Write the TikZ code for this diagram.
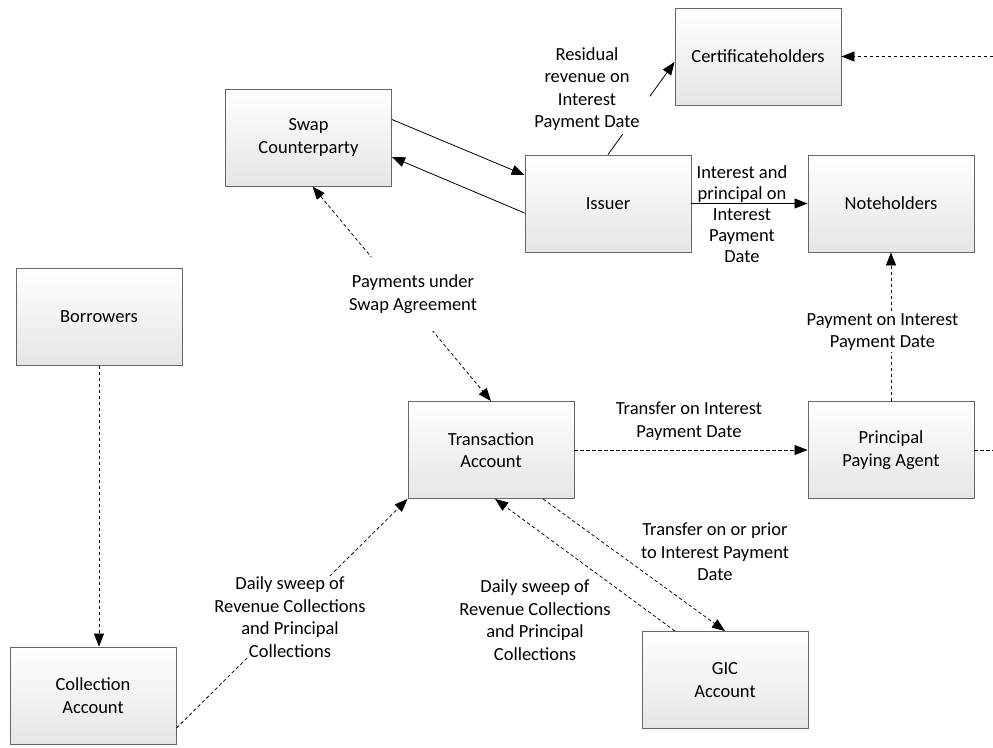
\documentclass[tikz,border=0pt]{standalone}
\usepackage{fontspec}
\setmainfont{Carlito}
\usetikzlibrary{arrows.meta,calc}
\newcommand\fsz{\fontsize{18.5}{22.5}\selectfont}
\newcommand\fszb{\fontsize{18.5}{21}\selectfont}
\begin{document}
\begin{tikzpicture}[x=1pt,y=-1pt,
  box/.style={draw=black!60, line width=0.9pt, top color=white, bottom color=black!10,
              minimum width=166pt, minimum height=97pt, align=center, font=\fsz},
  lbl/.style={align=center, font=\fsz, inner sep=1pt},
  conn/.style={line width=0.8pt, -{Triangle[length=13pt,width=10pt]}},
  dconn/.style={conn, line width=0.75pt, dash pattern=on 3.5pt off 2.5pt},
  dline/.style={line width=0.75pt, dash pattern=on 3.5pt off 2.5pt}]
\useasboundingbox (0,0) rectangle (993,747);

% boxes
\node[box] (cert) at (758,56.5) {Certificateholders};
\node[box] (sw)   at (308.5,137.5) {Swap\\Counterparty};
\node[box] (iss)  at (608,203.5) {Issuer};
\node[box] (note) at (891,203.5) {Noteholders};
\node[box] (bor)  at (99,317) {Borrowers};
\node[box] (ta)   at (491,450) {Transaction\\Account};
\node[box] (ppa)  at (891,450) {Principal\\Paying Agent};
\node[box] (col)  at (93,695.5) {Collection\\Account};
\node[box] (gic)  at (725,680) {GIC\\Account};

\coordinate (rin)  at (993,56.5);
\coordinate (rout) at (993,450);

% connectors
\draw[dconn] (rin) -- (cert.east);
\draw[dline] (ppa.east) -- (rout);
\draw[conn] (iss.north) -- ([yshift=-5.5pt]cert.west);
\draw[conn] ([yshift=18pt]sw.east) -- ([yshift=28.5pt]iss.west);
\draw[conn] ([yshift=-9.5pt]iss.west) -- ([yshift=-19.5pt]sw.east);
\draw[conn] (iss.east) -- (note.west);
\draw[dconn] (ppa.north) -- (note.south);
\draw[dconn] (ta.east) -- (ppa.west);
\draw[dconn, {Triangle[length=13pt,width=10pt]}-{Triangle[length=13pt,width=10pt]}] ([xshift=4pt]sw.south) -- (ta.north);
\draw[dconn] (bor.south) -- (bor.south |- col.north);
\draw[dconn] ([yshift=-32.5pt]col.east) -- (ta.south west);
\draw[dconn] ([xshift=52pt]ta.south) -- (gic.north);
\draw[dconn] ([xshift=-50pt]gic.north) -- ([xshift=4pt]ta.south);

% labels
\node[lbl, fill=white, inner xsep=10pt, inner ysep=3pt] (lres) at (587,89) {Residual\\revenue on\\Interest\\Payment Date};
\node[lbl, font=\fszb] (lint) at (742,214) {Interest and\\principal on\\Interest\\Payment\\Date};
\node[lbl, fill=white, inner xsep=4pt, inner ysep=18pt] (lswap) at (413,294) {Payments under\\Swap Agreement};
\node[lbl, fill=white] (lpay) at (882.5,332) {Payment on Interest\\Payment Date};
\node[lbl] (ltr) at (689,421) {Transfer on Interest\\Payment Date};
\node[lbl, fill=white] (ldl) at (290,617) {Daily sweep of\\Revenue Collections\\and Principal\\Collections};
\node[lbl] (ltg) at (715,552) {Transfer on or prior\\to Interest Payment\\Date};
\node[lbl] (ldr) at (535,620) {Daily sweep of\\Revenue Collections\\and Principal\\Collections};
\end{tikzpicture}
\end{document}
